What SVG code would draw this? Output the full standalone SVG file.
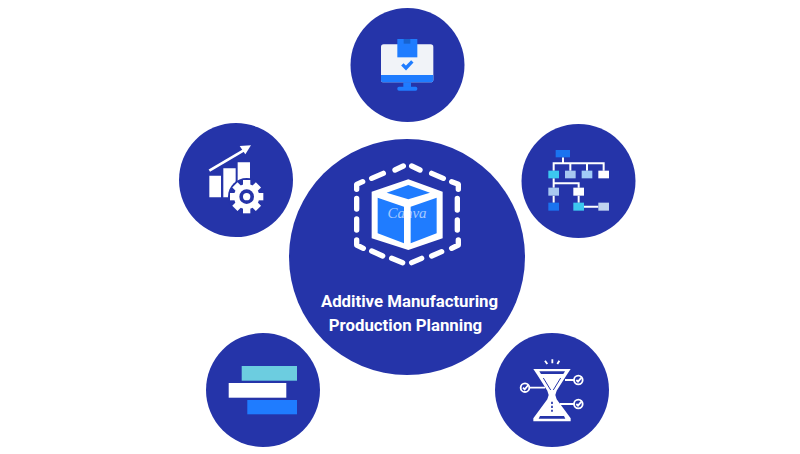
<svg xmlns="http://www.w3.org/2000/svg" width="800" height="454" viewBox="0 0 800 454">
<style>
.c{fill:#2534a9}
.t{font-family:Roboto,"Liberation Sans",sans-serif;font-weight:700;font-size:16.800px;fill:#fff;text-anchor:middle}
.d{fill:none;stroke:#fff;stroke-width:16;stroke-linecap:round;stroke-linejoin:round}
.w{fill:none;stroke:#fff;stroke-width:6}
.ck{fill:none;stroke:#fff;stroke-width:5.500}
</style>
<rect width="800" height="454" fill="#fff"/>
<g id="connectors"></g>
<g id="node-center">
<circle class="c" cx="407" cy="257" r="118"/>
<g transform="translate(340 150) scale(.3333)">
<path class="d" d="M165 60L190 48M215 48L240 60M275 70L310 85M335 95L355 103V118M352 145V180M352 210V240M355 270V285L335 295M305 305L275 318M245 325L215 338M188 338L155 325M128 318L95 303M70 295L50 285V270M50 240V207M50 177V145M50 118V103L68 95M95 85L130 70"/>
<path fill="#fff" d="M205 88L308 125V265L205 300L95 265V125Z"/>
<path fill="#1f7cff" d="M140 128L205 105L270 128L205 148ZM113 143L192 170V280L113 250ZM212 170L290 143V250L212 280Z"/>
</g>
<text x="407" y="218" font-family="'Liberation Serif',serif" font-style="italic" font-size="15" fill="#fff" fill-opacity=".6" text-anchor="middle">Canva</text>
<text class="t" x="409.500" y="306.500">Additive Manufacturing</text>
<text class="t" x="405.500" y="330.500">Production Planning</text>
</g>
<g id="node-top">
<circle class="c" cx="407.500" cy="65" r="57"/>
<g transform="translate(365 25) scale(.3333)">
<rect x="48" y="58" width="157" height="114" rx="8" fill="#f1f3f8"/>
<path fill="#1f7cff" d="M48 150H205V164a8 8 0 0 1-8 8H56a8 8 0 0 1-8-8Z"/>
<rect x="115" y="172" width="23" height="14" fill="#1f7cff"/>
<rect x="97" y="185" width="60" height="12" rx="5" fill="#1f7cff"/>
<rect x="97" y="42" width="60" height="55" fill="#1f7cff"/>
<rect x="116" y="42" width="20" height="14" fill="#1763d0"/>
<path d="M112 118L123 129L142 109" fill="none" stroke="#1f7cff" stroke-width="10"/>
</g>
</g>
<g id="node-left">
<circle class="c" cx="236" cy="180" r="57"/>
<g transform="translate(195 135) scale(.3333)">
<path fill="#fff" d="M43 122H78V187H43ZM85 100H122V187H85ZM128 82H165V150H128Z"/>
<path d="M43 107L155 41" stroke="#fff" stroke-width="8" fill="none"/>
<path fill="#fff" d="M168 31L134 33L151 58Z"/>
<circle cx="155" cy="185" r="56" class="c"/>
<g fill="#fff">
<circle cx="155" cy="185" r="38"/>
<g id="gear-teeth">
<rect x="144" y="135" width="22" height="100"/>
<rect x="144" y="135" width="22" height="100" transform="rotate(45 155 185)"/>
<rect x="144" y="135" width="22" height="100" transform="rotate(90 155 185)"/>
<rect x="144" y="135" width="22" height="100" transform="rotate(135 155 185)"/>
</g>
</g>
<circle cx="155" cy="185" r="22" class="c"/>
<circle cx="155" cy="185" r="11" fill="#fff"/>
</g>
</g>
<g id="node-right">
<circle class="c" cx="578.500" cy="181" r="57"/>
<g transform="translate(535 140) scale(.3333)">
<path class="w" d="M84 52V70M53 70H209M56 70V92M106 70V92M156 70V92M206 70V92M56 115V143M56 130H131V143M56 167V188M131 167V188M147 200H190"/>
<rect x="62" y="30" width="43" height="22" fill="#1a73f0"/>
<rect x="40" y="92" width="32" height="23" fill="#3cc8f0"/>
<rect x="90" y="92" width="32" height="23" fill="#a8c8f0"/>
<rect x="140" y="92" width="32" height="23" fill="#a0ccf8"/>
<rect x="190" y="92" width="32" height="23" fill="#fff"/>
<rect x="40" y="143" width="32" height="24" fill="#a8c8f0"/>
<rect x="115" y="143" width="32" height="24" fill="#fff"/>
<rect x="40" y="188" width="32" height="24" fill="#1a73f0"/>
<rect x="115" y="188" width="32" height="24" fill="#3cc8f0"/>
<rect x="190" y="188" width="32" height="24" fill="#c0d4f0"/>
</g>
</g>
<g id="node-bottom-left">
<circle class="c" cx="263" cy="390" r="57"/>
<rect x="241.700" y="366" width="55.300" height="14.700" fill="#6ccde0"/>
<rect x="228.700" y="383" width="57.600" height="14.700" fill="#fff"/>
<rect x="247.300" y="400" width="49.700" height="14.300" fill="#1f7cff"/>
</g>
<g id="node-bottom-right">
<circle class="c" cx="552" cy="390" r="57"/>
<g transform="translate(510 350) scale(.3333)">
<path fill="#fff" d="M70 57H182L170 75L140 122L136 135L140 148L182 205V214H70V205L112 148L116 135L112 122L82 75Z"/>
<path class="c" d="M88 64H165L160 72H93Z"/>
<path class="c" d="M90 198H162L166 206H86Z"/>
<path d="M100 84L122 120M152 84L130 120" stroke="#2534a9" stroke-width="3" fill="none"/>
<path d="M126 155V185" stroke="#2534a9" stroke-width="5" stroke-dasharray="7 5" fill="none"/>
<path class="ck" d="M165 90H192M58 113H105M150 162H192M105 32L112 42M127 28V40M148 32L142 42"/>
<circle class="ck" cx="205" cy="90" r="13"/>
<circle class="ck" cx="45" cy="113" r="13"/>
<circle class="ck" cx="205" cy="162" r="13"/>
<path class="ck" d="M199 90L204 95L215 82M39 113L44 118L55 105M199 162L204 167L215 154"/>
</g>
</g>
</svg>
